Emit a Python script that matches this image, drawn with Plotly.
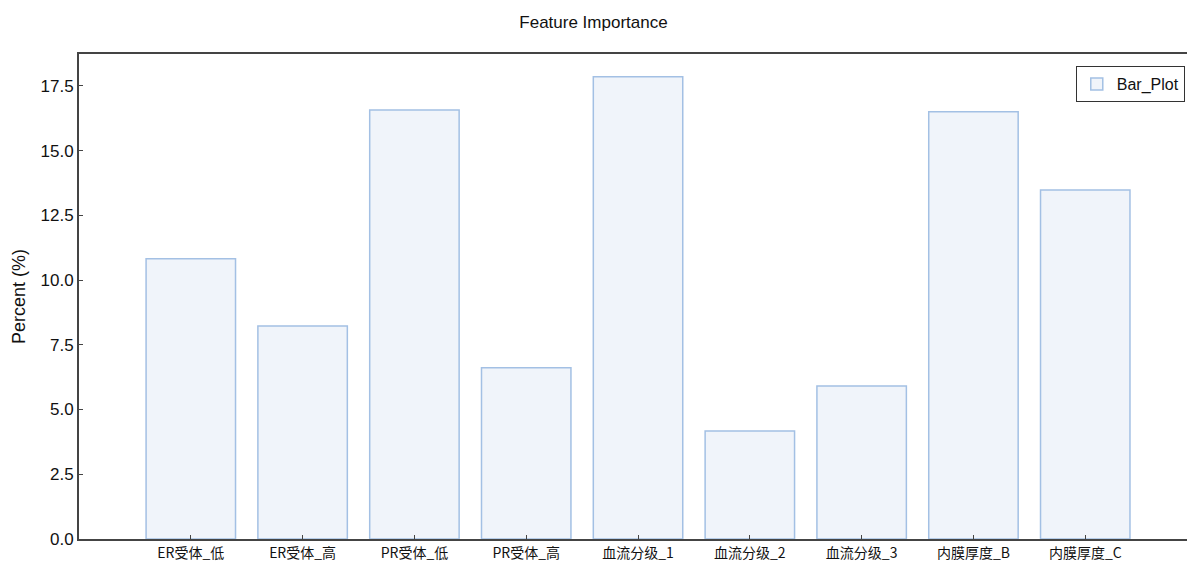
import plotly.graph_objects as go

categories = ["ER受体_低", "ER受体_高", "PR受体_低", "PR受体_高", "血流分级_1",
              "血流分级_2", "血流分级_3", "内膜厚度_B", "内膜厚度_C"]
percent = [10.82, 8.23, 16.57, 6.61, 17.85, 4.17, 5.91, 16.50, 13.48]
y_ticks = [0, 2.5, 5, 7.5, 10, 12.5, 15, 17.5]
y_tick_labels = ["0.0", "2.5", "5.0", "7.5", "10.0", "12.5", "15.0", "17.5"]

fig = go.Figure()
fig.add_trace(go.Bar(
    x=list(range(len(categories))), y=percent, name="Bar_Plot",
    width=0.8,
    marker=dict(color="#f0f4fa", line=dict(color="#a3c0e4", width=1.5)),
    showlegend=True,
))

fig.update_layout(
    width=1187, height=564,
    margin=dict(l=79, r=0, t=54, b=25),
    paper_bgcolor="white", plot_bgcolor="white",
    font=dict(family="Liberation Sans, Arial, Noto Sans CJK SC", color="#111"),
    title=dict(text="Feature Importance", x=0.5, xanchor="center", y=0.961, yanchor="middle",
               font=dict(size=17, color="#111")),
    legend=dict(x=0.998, y=0.975, xanchor="right", yanchor="top",
                bordercolor="#333", borderwidth=1, bgcolor="white",
                font=dict(size=16, color="#111")),
    bargap=0.2,
)
fig.update_xaxes(
    range=[-1.0, 8.91],
    tickvals=list(range(len(categories))), ticktext=categories,
    tickfont=dict(size=14, family="Noto Sans CJK SC, Liberation Sans", color="#111"),
    showline=True, linecolor="#444", linewidth=2, mirror=True,
    ticks="inside", ticklen=4, tickcolor="#444",
    showgrid=False, zeroline=False,
)
fig.update_yaxes(
    range=[0, 18.73],
    tickvals=y_ticks, ticktext=y_tick_labels,
    tickfont=dict(size=17, color="#111"),
    title=dict(text="Percent (%)", font=dict(size=18, color="#111"), standoff=10),
    showline=True, linecolor="#444", linewidth=2, mirror=False,
    ticks="inside", ticklen=4, tickcolor="#444",
    showgrid=False, zeroline=False,
)

fig.write_html("out.html", config={"displayModeBar": False},
               post_script="document.body.style.margin='0';document.body.style.overflow='hidden';")
